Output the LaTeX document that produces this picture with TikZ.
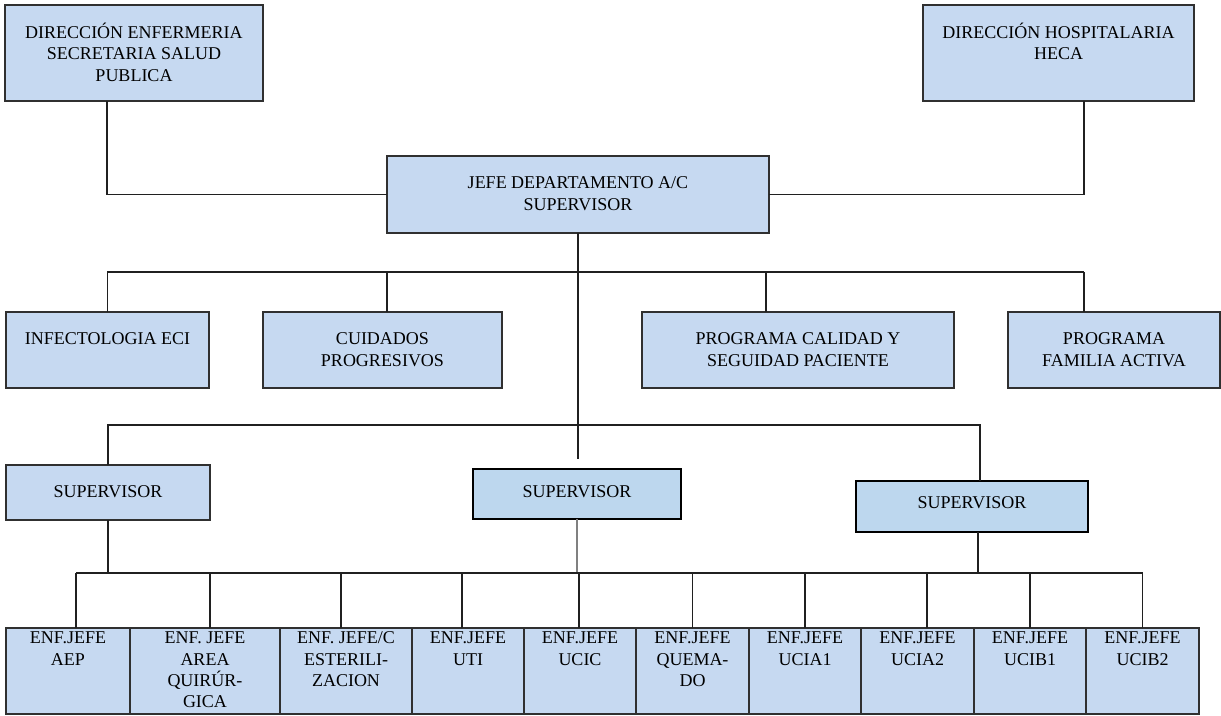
\documentclass[tikz,border=0pt]{standalone}
\usepackage{fontspec}
\setmainfont{Liberation Serif}
\usetikzlibrary{calc}
\definecolor{boxfill}{HTML}{C6D9F1}
\definecolor{supfill}{HTML}{BDD7EE}
\definecolor{edgecol}{HTML}{303030}
\definecolor{wirecol}{HTML}{202020}
\newcommand{\bx}[4]{\parbox[c][#2pt][t]{#1pt}{\centering\vspace*{#3pt}\strut #4\par}}
\begin{document}
\begin{tikzpicture}[x=1pt,y=-1pt,
  box/.style={draw=edgecol, line width=1.2pt, fill=boxfill, inner sep=0pt, outer sep=0pt,
    anchor=north west, font=\fontsize{18}{21.3}\selectfont},
  supbox/.style={box, draw=black, line width=2.8pt, fill=supfill},
  wire/.style={draw=wirecol, line width=1.4pt},
  graywire/.style={draw=gray, line width=1.4pt}]
\useasboundingbox (0,0) rectangle (1221,715);
\fill[white] (0,0) rectangle (1221,715);

% top level
\node[box] (dir) at (5,5) {\bx{258}{96}{18}{DIRECCIÓN ENFERMERIA\\SECRETARIA SALUD\\PUBLICA}};
\node[box] (hos) at (923,5) {\bx{271}{96}{18}{DIRECCIÓN HOSPITALARIA\\HECA}};
\node[box] (jefe) at (387,156) {\bx{382}{77}{18}{JEFE DEPARTAMENTO A/C\\SUPERVISOR}};

% second level
\node[box] (inf) at (6,312) {\bx{203}{76}{18}{INFECTOLOGIA ECI}};
\node[box] (cui) at (263,312) {\bx{239}{76}{18}{CUIDADOS\\PROGRESIVOS}};
\node[box] (cal) at (642,312) {\bx{312}{76}{18}{PROGRAMA CALIDAD Y\\SEGUIDAD PACIENTE}};
\node[box] (fam) at (1008,312) {\bx{212}{76}{18}{PROGRAMA\\FAMILIA ACTIVA}};

% supervisors
\node[box] (s1) at (6,465) {\bx{204}{55}{18}{SUPERVISOR}};
\node[supbox] (s2) at (473,469) {\bx{208}{50}{14}{SUPERVISOR}};
\node[supbox] (s3) at (856,481) {\bx{232}{51}{13}{SUPERVISOR}};

% bottom row
\node[box] (b1) at (6,628) {\bx{124}{86}{1}{ENF.JEFE\\AEP}};
\node[box] (b2) at (130,628) {\bx{150}{86}{1}{ENF. JEFE\\AREA\\QUIRÚR-\\GICA}};
\node[box] (b3) at (280,628) {\bx{132}{86}{1}{ENF. JEFE/C\\ESTERILI-\\ZACION}};
\node[box] (b4) at (412,628) {\bx{112}{86}{1}{ENF.JEFE\\UTI}};
\node[box] (b5) at (524,628) {\bx{112}{86}{1}{ENF.JEFE\\UCIC}};
\node[box] (b6) at (636,628) {\bx{113}{86}{1}{ENF.JEFE\\QUEMA-\\DO}};
\node[box] (b7) at (749,628) {\bx{112}{86}{1}{ENF.JEFE\\UCIA1}};
\node[box] (b8) at (861,628) {\bx{113}{86}{1}{ENF.JEFE\\UCIA2}};
\node[box] (b9) at (974,628) {\bx{112}{86}{1}{ENF.JEFE\\UCIB1}};
\node[box] (b10) at (1086,628) {\bx{113}{86}{1}{ENF.JEFE\\UCIB2}};

% helper coordinates
\coordinate (bus2) at (0,272);
\coordinate (bus3) at (0,425);
\coordinate (bus4) at (0,573);
\coordinate (xa) at (107,0);
\coordinate (xb) at (1084,0);
\coordinate (xc) at (766,0);
\coordinate (xd) at (980,0);
\coordinate (xe) at (978,0);
\coordinate (gap) at (0,459);

% connectors top
\draw[wire] (dir.south -| xa) |- (jefe.west);
\draw[wire] (hos.south -| xb) |- (jefe.east);
\draw[wire] (jefe.south) -- (jefe.south |- gap);

% second level bus
\draw[wire] (xa |- bus2) -- (xb |- bus2);
\draw[wire] (inf.north) -- (inf.north |- bus2);
\draw[wire] (cui.north -| jefe.west) -- (jefe.west |- bus2);
\draw[wire] (cal.north -| xc) -- (xc |- bus2);
\draw[wire] (fam.north -| xb) -- (xb |- bus2);

% supervisor bus
\draw[wire] (s1.north) |- (xd |- bus3) -- (s3.north -| xd);

% below supervisors
\draw[wire] (s1.south) -- (s1.south |- bus4);
\draw[graywire] (s2.south) -- (s2.south |- bus4);
\draw[wire] (s3.south -| xe) -- (xe |- bus4);

% bottom drops
\foreach \i/\dx in {1/8,2/5,3/-5,4/-6,5/-1,6/0,7/0,8/9.5,9/0,10/0}{
  \coordinate (d\i) at ($(b\i.north)+(\dx,0)$);
  \draw[wire] (d\i) -- (d\i |- bus4);
}
\draw[wire] (d1 |- bus4) -- (d10 |- bus4);
\end{tikzpicture}
\end{document}
